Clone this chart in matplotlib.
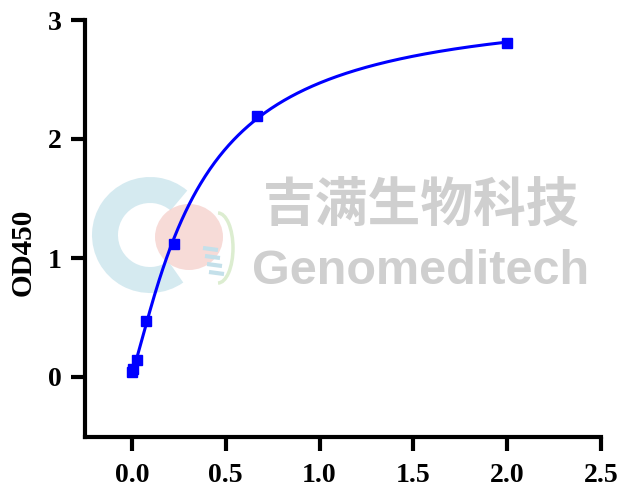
import numpy as np
import matplotlib
matplotlib.use("Agg")
import matplotlib.pyplot as plt
from matplotlib.patches import Ellipse, Wedge, Arc
from matplotlib.transforms import Affine2D

# data
conc = [2.0, 0.667, 0.222, 0.074, 0.0247, 0.0082, 0.0]
od450 = [2.805, 2.196, 1.12, 0.472, 0.145, 0.065, 0.04]
xticks = [0.0, 0.5, 1.0, 1.5, 2.0, 2.5]
yticks = [0, 1, 2, 3]

x = np.array(conc)
y = np.array(od450)

def f4pl(p, xx):
    a, d, c, b = p
    return d + (a - d) / (1.0 + (np.clip(xx, 0, None) / c) ** b)

# Levenberg-Marquardt fit of 4PL
p = np.array([0.03, 3.0, 0.3, 1.0])
lam = 1e-2
def resid(p):
    return f4pl(p, x) - y
for _ in range(500):
    r = resid(p)
    J = np.zeros((len(x), 4))
    for k in range(4):
        dp = np.zeros(4); h = 1e-6 * max(1.0, abs(p[k])); dp[k] = h
        J[:, k] = (resid(p + dp) - r) / h
    A = J.T @ J
    g = J.T @ r
    step = np.linalg.solve(A + lam * np.diag(np.diag(A) + 1e-12), -g)
    pn = p + step
    if pn[2] > 0 and pn[3] > 0 and np.sum(resid(pn) ** 2) < np.sum(r ** 2):
        p = pn; lam *= 0.3
    else:
        lam *= 5
xs = np.linspace(0, 2.0, 400)
ys = f4pl(p, xs)

plt.rcParams['font.family'] = ['Liberation Serif', 'DejaVu Serif']
W, H = 621, 491
fig = plt.figure(figsize=(W / 100, H / 100), dpi=100)
ax = fig.add_axes([85/W, 1 - 436.5/H, (601-85)/W, (436.5-20)/H])

# pixel transform for the watermark logo (y downwards)
pix = Affine2D().scale(1, -1).translate(0, H).scale(1 / W, 1 / H) + fig.transFigure

# watermark logo (behind)
ax.add_patch(Wedge((150, 235), 58, 55, 310, width=26, transform=pix,
                   facecolor='#cbe5ed', edgecolor='none', alpha=0.8, zorder=0))
ax.add_patch(Ellipse((189, 237), 68, 66, transform=pix,
                     facecolor='#f6d2ce', edgecolor='none', alpha=0.8, zorder=0))
ax.add_patch(Arc((218, 248), 30, 70, theta1=-90, theta2=90, transform=pix,
                 color='#dcedd0', lw=2.5, zorder=0))
for k in range(4):
    ax.plot([203 + 2 * k, 218 + 2 * k], [248 + 8 * k, 250 + 8 * k], transform=pix,
            color='#c4e0ea', lw=3, zorder=0, solid_capstyle='butt')

# watermark text (behind)
ax.text(0.651, 0.556, '吉满生物科技', transform=ax.transAxes, fontsize=38,
        fontweight='bold', color='#cfcfcf', family=['Noto Sans CJK SC', 'DejaVu Sans'],
        ha='center', va='center', zorder=0)
ax.text(0.651, 0.397, 'Genomeditech', transform=ax.transAxes, fontsize=35,
        fontweight='bold', color='#cfcfcf', family=['Liberation Sans', 'DejaVu Sans'],
        ha='center', va='center', zorder=0)

ax.plot(xs, ys, color='#0000ff', lw=2.2, zorder=3)
ax.plot(x, y, 's', color='#0000ff', ms=7.5, zorder=4, clip_on=False)

ax.set_xlim(-0.25, 2.5)
ax.set_ylim(-0.5, 3)
ax.set_xticks(xticks)
ax.set_xticklabels([f'{t:.1f}' for t in xticks])
ax.set_yticks(yticks)
ax.set_yticklabels([str(t) for t in yticks])
ax.spines['top'].set_visible(False)
ax.spines['right'].set_visible(False)
for s in ['left', 'bottom']:
    ax.spines[s].set_linewidth(3.0)
ax.tick_params(width=3.0, length=10, labelsize=20)
ax.tick_params(axis='x', pad=9)
ax.tick_params(axis='y', pad=7)
for lab in ax.get_xticklabels() + ax.get_yticklabels():
    lab.set_fontweight('bold')
ax.set_ylabel('OD450', fontsize=21, fontweight='bold')
ax.yaxis.set_label_coords(-0.093, 0.443)

fig.savefig('out.png', dpi=100)
